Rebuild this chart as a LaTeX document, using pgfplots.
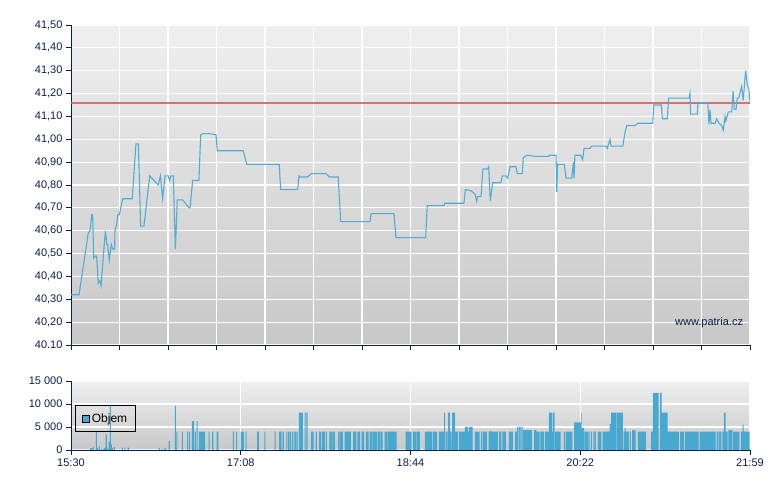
\documentclass[border=0pt]{standalone}
\usepackage{fontspec}
\setmainfont{Liberation Sans}
\usepackage{pgfplots}
\pgfplotsset{compat=1.18}
\definecolor{navy}{RGB}{12,30,80}
\definecolor{lineblue}{RGB}{82,172,214}
\definecolor{barblue}{RGB}{72,168,208}
\definecolor{refred}{RGB}{205,95,95}
\definecolor{bgtop}{RGB}{239,239,239}
\definecolor{bgbot}{RGB}{200,200,200}
\pgfplotsset{
  base/.style={
    scale only axis, width=679pt,
    xmin=0, xmax=389,
    axis lines*=left,
    axis line style={navy, line width=0.9pt},
    tick align=outside,
    major tick length=5pt,
    every tick/.style={navy, line width=0.9pt},
    grid=major,
    major grid style={white, line width=1.1pt},
    axis background/.style={top color=bgtop, bottom color=bgbot},
    tick label style={font=\fontsize{11}{13}\selectfont, text=navy},
    scaled ticks=false,
  }
}
\begin{document}
\begin{tikzpicture}
\useasboundingbox (0,0) rectangle (780pt,490pt);
% ---------------- price ----------------
\begin{axis}[base, at={(71pt,145pt)}, anchor=south west, height=320pt,
  ymin=40.1, ymax=41.5,
  ytick={40.1,40.2,40.3,40.4,40.5,40.6,40.7,40.8,40.9,41.0,41.1,41.2,41.3,41.4,41.5},
  yticklabels={40.10,{40,20},{40,30},{40,40},{40,50},{40,60},{40,70},{40,80},{40,90},{41,00},{41,10},{41,20},{41,30},{41,40},{41,50}},
  xtick={0,27.786,55.571,83.357,111.143,138.929,166.714,194.5,222.286,250.071,277.857,305.643,333.429,361.214,389},
  xticklabels={},
]
\addplot[refred, line width=1.6pt, opacity=0.85] coordinates {(0,41.16) (389,41.16)};
\addplot[lineblue, line width=1.1pt] coordinates {
(0,40.32)(4.6,40.32)(9.9,40.59)(10.9,40.60)(11.9,40.67)(12.4,40.67)(13.0,40.48)(14.2,40.49)(14.7,40.49)(15.6,40.37)(16.6,40.38)(17.2,40.36)(19.7,40.60)(20.5,40.54)(21.0,40.54)(21.9,40.47)(23.1,40.54)(23.9,40.52)(25.0,40.52)(25.2,40.60)(26.2,40.63)(26.8,40.67)(27.7,40.67)(29.6,40.74)(35.1,40.74)(37.2,40.98)(38.6,40.98)(39.9,40.62)(41.8,40.62)(45.1,40.84)(50.0,40.80)(51.2,40.84)(52.5,40.74)(53.9,40.84)(55.7,40.84)(56.5,40.82)(57.3,40.84)(58.6,40.84)(59.8,40.52)(60.9,40.735)(64.0,40.735)(67.6,40.70)(68.2,40.70)(69.7,40.82)(73.3,40.82)(74.3,41.02)(75.8,41.025)(78.7,41.025)(83.1,41.02)(83.8,40.95)(98.7,40.95)(100.7,40.89)(119.3,40.89)(120.1,40.78)(129.9,40.78)(130.6,40.84)(131.2,40.835)(135.4,40.835)(137.9,40.85)(146.1,40.85)(148.0,40.835)(153.1,40.835)(154.5,40.64)(171.3,40.64)(171.9,40.675)(185.0,40.675)(186.2,40.57)(203.2,40.57)(204.1,40.71)(213.7,40.71)(214.1,40.72)(225.1,40.72)(225.9,40.78)(229.2,40.775)(231.5,40.76)(232.4,40.73)(233.0,40.75)(234.9,40.75)(236.0,40.87)(238.7,40.87)(239.3,40.88)(240.2,40.73)(241.6,40.81)(246.2,40.81)(247.1,40.84)(249.0,40.84)(250.2,40.83)(251.5,40.88)(254.9,40.88)(255.7,40.85)(258.6,40.85)(259.1,40.92)(261.1,40.93)(266.8,40.925)(273.5,40.925)(274.0,40.93)(277.9,40.93)(278.3,40.77)(278.8,40.89)(282.6,40.89)(283.6,40.83)(286.9,40.83)(287.8,40.90)(288.2,40.83)(288.7,40.93)(292.0,40.93)(293.1,40.91)(293.9,40.96)(297.3,40.96)(298.3,40.97)(306.3,40.97)(307.2,40.96)(308.8,41.00)(309.4,40.97)(316.1,40.97)(317.4,41.03)(318.4,41.06)(323.1,41.06)(324.7,41.07)(333.3,41.07)(333.8,41.15)(338.2,41.15)(338.8,41.09)(341.6,41.09)(342.4,41.18)(354.1,41.18)(354.6,41.20)(355.0,41.11)(358.8,41.11)(359.2,41.16)(364.8,41.16)(365.5,41.065)(366.1,41.13)(366.7,41.07)(369.0,41.07)(369.9,41.09)(371.2,41.07)(372.8,41.06)(373.7,41.04)(374.7,41.10)(375.2,41.08)(376.6,41.12)(378.5,41.12)(379.3,41.21)(380.0,41.13)(381.0,41.13)(381.7,41.18)(382.5,41.18)(384.2,41.23)(385.1,41.17)(386.5,41.30)(387.4,41.24)(388.3,41.22)(389.0,41.165)
};
\node[anchor=east, font=\fontsize{11}{13}\selectfont, text=navy, inner sep=0pt] at (rel axis cs:0.99,0.069) {www.patria.cz};
\end{axis}
% ---------------- volume ----------------
\begin{axis}[base, at={(71pt,40pt)}, anchor=south west, height=69pt,
  ymin=0, ymax=15000,
  ytick={0,5000,10000,15000},
  yticklabels={0,{5 000},{10 000},{15 000}},
  xtick={0,97.25,194.5,291.75,389},
  xticklabels={15:30,17:08,18:44,20:22,21:59},
  legend style={at={(0.006,0.648)}, anchor=north west, draw=black, line width=0.8pt, fill=none,
    font=\fontsize{12}{14}\selectfont, inner xsep=6.5pt, inner ysep=6pt},
  legend image code/.code={\draw[fill=barblue, draw=black, line width=0.6pt] (0pt,-3.6pt) rectangle (7.3pt,3.6pt);},
]
\addplot[const plot, fill=barblue, draw=none] coordinates {
(0,0)(11.0,350)(11.6,0)(11.7,400)(12.3,0)(12.5,700)(13.1,0)(14.2,4100)(14.8,400)(15.4,0)(15.9,800)(16.5,0)(17.1,300)(17.7,0)(18.2,200)(18.8,0)(19.0,400)(19.6,500)(19.9,3400)(20.5,0)(20.7,300)(21.3,0)(21.6,1800)(22.2,9600)(22.8,1200)(23.4,0)(23.6,400)(24.2,0)(24.5,600)(25.1,0)(29.1,500)(29.7,0)(30.6,500)(31.2,0)(32.5,500)(33.1,0)(50.3,400)(50.9,0)(51.8,200)(52.4,0)(53.2,300)(53.8,0)(54.1,500)(54.7,0)(56.0,2000)(56.6,0)(59.5,9600)(60.1,0)(60.4,4000)(61.0,0)(63.5,4000)(64.1,0)(66.5,4000)(67.1,0)(67.7,4000)(68.3,0)(69.2,6300)(69.8,0)(70.0,6300)(70.6,0)(70.9,4000)(71.5,0)(71.9,6300)(72.5,0)(73.3,4000)(76.2,0)(76.3,4000)(76.9,0)(78.8,4000)(79.4,0)(80.9,4000)(81.5,0)(83.4,4000)(84.4,0)(92.7,4000)(93.3,0)(94.6,4000)(95.2,0)
(97.2,4000)(99.1,0)(100.0,4000)(100.6,0)(106.6,4000)(107.7,0)(110.8,4000)(111.4,0)(116.6,4000)(117.2,0)(119.2,4000)(120.7,0)(121.3,4000)(121.9,0)(123.4,4000)(124.0,0)(124.4,4000)(125.0,0)(125.3,4000)(125.9,0)(126.5,4000)(127.1,0)(127.5,4000)(128.1,0)(128.4,4000)(129.0,0)(129.3,4000)(129.9,0)(130.5,8100)(132.9,0)(133.8,8100)(134.4,0)(134.9,8100)(135.5,0)(137.5,4000)(139.0,0)(140.2,4000)(140.8,0)(142.1,4000)(143.2,0)(143.6,4000)(145.5,0)(146.0,4000)(146.6,0)(148.0,4000)(149.5,0)(149.8,4000)(151.2,0)(153.0,4000)(153.7,0)(154.1,4000)(155.8,0)(156.8,4000)(160.4,0)(161.6,4000)(163.5,0)(164.0,4000)(165.6,0)(166.5,4000)(167.9,0)(169.0,4000)(170.5,0)(171.1,4000)(172.6,0)(173.0,4000)(175.3,0)(175.7,4000)(176.9,0)(177.2,4000)(178.6,0)(179.7,4000)(181.2,0)(181.6,4000)(186.5,0)(191.7,4000)(195.0,0)
(195.9,4000)(197.8,0)(198.2,4000)(199.9,0)(202.8,4000)(206.8,0)(207.2,4000)(208.4,0)(208.5,4000)(209.7,0)(210.8,4000)(213.7,8100)(214.4,0)(214.7,4000)(215.8,0)(216.0,8100)(217.0,0)(217.1,4000)(218.1,0)(218.3,8100)(220.0,4000)(221.7,0)(222.3,4000)(225.7,5000)(227.4,4000)(228.0,5000)(230.1,0)(231.4,4000)(234.1,0)(234.9,4000)(235.5,0)(236.0,4000)(238.2,0)(239.3,4000)(239.7,0)(239.9,4200)(240.4,4000)(244.6,0)(245.2,4000)(246.5,0)(247.1,4000)(249.2,0)(250.9,4000)(253.2,0)(254.4,4000)(255.3,0)(255.5,5000)(256.3,0)(256.7,5000)(257.6,0)(258.0,5000)(258.8,0)(259.0,4300)(259.7,0)(259.9,4300)(262.0,0)(262.2,4300)(264.1,0)(265.3,4300)(266.6,4000)(268.5,0)(268.9,4000)(271.0,0)(271.6,4000)(273.7,0)(273.8,8100)(275.6,4000)(276.0,0)(276.1,8100)(277.1,0)(277.3,4000)(278.3,0)(278.4,4000)(280.5,0)(282.4,4000)(283.0,0)(283.4,4000)(287.2,0)(288.2,6000)(292.2,8100)(292.6,4800)(293.9,0)
(294.3,4000)(296.2,0)(296.5,4000)(297.1,0)(297.8,4000)(298.4,0)(299.2,4000)(299.8,0)(300.1,4000)(300.7,0)(301.9,4000)(303.1,0)(303.3,4000)(303.9,0)(304.6,4000)(308.6,5700)(309.4,8100)(312.4,0)(312.8,8100)(316.1,0)(316.6,4000)(317.2,4800)(317.8,4000)(319.7,0)(320.3,4000)(320.8,0)(321.4,4300)(323.5,0)(324.8,4000)(329.4,0)(332.3,4000)(333.4,12400)(336.7,0)(337.4,12400)(338.4,8100)(341.8,4000)(348.3,0)(348.9,4000)(351.2,0)(351.8,4000)(359.6,0)(360.2,4000)(369.3,0)(369.9,4000)(370.8,0)(371.2,4000)(372.6,0)(373.2,4000)(374.0,8100)(375.1,4000)(376.2,0)(376.6,4300)(377.7,0)(377.8,4300)(378.9,0)(379.3,4000)(382.9,0)(383.7,4000)(384.6,0)(384.8,5500)(385.4,4000)(388.8,0)(389,0)
} \closedcycle;
\addlegendentry{Objem}
\end{axis}
\end{tikzpicture}
\end{document}
